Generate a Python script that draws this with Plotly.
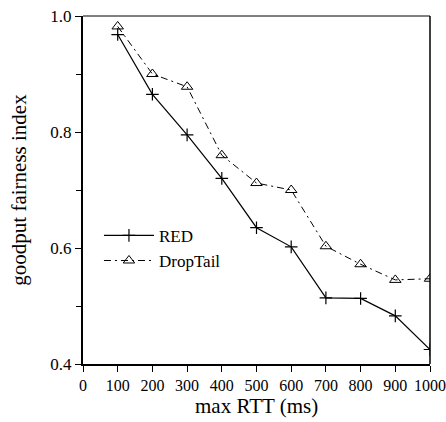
import plotly.graph_objects as go

rtt = [100, 200, 300, 400, 500, 600, 700, 800, 900, 1000]
red = [0.968, 0.865, 0.795, 0.72, 0.635, 0.602, 0.514, 0.513, 0.483, 0.425]
droptail = [0.982, 0.900, 0.878, 0.760, 0.712, 0.700, 0.603, 0.572, 0.545, 0.547]

font = "Liberation Serif"

fig = go.Figure()
fig.add_trace(go.Scatter(
    x=rtt, y=red, name="RED", mode="lines+markers",
    line=dict(color="black", width=1.2),
    marker=dict(symbol="cross-thin", size=9, line=dict(color="black", width=1.2)),
))
fig.add_trace(go.Scatter(
    x=rtt, y=droptail, name="DropTail", mode="lines+markers",
    line=dict(color="black", width=1, dash="7px,4px,2px,4px"),
    marker=dict(symbol="triangle-up-open", size=10, color="black", line=dict(color="black", width=1)),
))

fig.update_layout(
    width=446, height=422,
    margin=dict(l=83, r=16, t=16, b=58),
    paper_bgcolor="white", plot_bgcolor="white",
    font=dict(family=font, size=16, color="black"),
    showlegend=True,
    legend=dict(x=0.046, y=0.42, xanchor="left", yanchor="top",
                bgcolor="rgba(0,0,0,0)", font=dict(family=font, size=17),
                tracegroupgap=0, itemwidth=50),
    xaxis=dict(
        range=[0, 1000], tickmode="array", tickvals=list(range(0, 1001, 100)),
        ticks="outside", ticklen=6, tickwidth=1.2, tickcolor="black",
        tickfont=dict(family=font, size=16), ticklabeloverflow="allow", tickangle=0,
        automargin=False,
        showline=True, linecolor="black", linewidth=2, mirror=False,
        showgrid=False, zeroline=False,
    ),
    yaxis=dict(
        range=[0.4, 1.0], tickmode="array", tickvals=[0.4, 0.6, 0.8, 1.0],
        ticktext=["0.4", "0.6", "0.8", "1.0"],
        ticks="outside", ticklen=6, tickwidth=1.2, tickcolor="black",
        tickfont=dict(family=font, size=17), automargin=False,
        minor=dict(tickvals=[0.5, 0.7, 0.9], ticks="outside", ticklen=5, tickcolor="black", tickwidth=1),
        showline=True, linecolor="black", linewidth=2,
        showgrid=False, zeroline=False,
        title=dict(text="goodput fairness index", font=dict(family=font, size=21), standoff=18),
    ),
    annotations=[dict(text="max RTT (ms)", xref="paper", yref="paper", x=0.5, y=-0.122,
                      xanchor="center", yanchor="middle", showarrow=False,
                      font=dict(family=font, size=21, color="black"))],
)
fig.add_shape(type="line", xref="paper", yref="paper", x0=0, x1=1, y0=1, y1=1,
              line=dict(color="black", width=1))
fig.add_shape(type="line", xref="paper", yref="paper", x0=1, x1=1, y0=0, y1=1,
              line=dict(color="black", width=1.5))

fig.write_html("out.html")
